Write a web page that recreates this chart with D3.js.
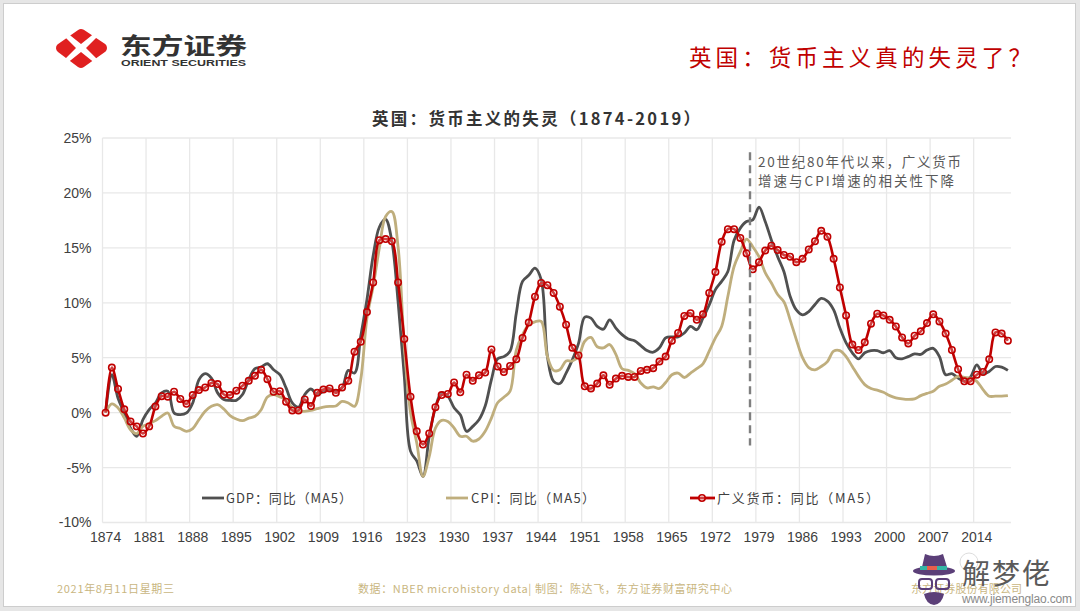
<!DOCTYPE html>
<html>
<head>
<meta charset="utf-8">
<script src="https://cdn.jsdelivr.net/npm/d3@7"></script>
<style>
html,body{margin:0;padding:0;background:#e6e6e6;overflow:hidden}
svg{display:block}
text{font-family:"Noto Sans CJK SC",sans-serif}
.tick text{font-family:"Liberation Sans",Arial,sans-serif;font-size:14px;fill:#404040}
</style>
</head>
<body>
<script>
// values, 1874-2019, % yoy (MA5)
const years = d3.range(1874, 2020);
const xTickYears = d3.range(1874, 2020, 7);
const yTicks = [-10, -5, 0, 5, 10, 15, 20, 25];

const gdp = [0,3.45,1.3,-0.03,-1.4,-2.15,-0.64,0.27,0.88,1.8,1.95,-0.03,-0.18,-0.03,0.88,3.0,3.55,3.15,1.8,1.2,
  1.12,1.12,1.65,3.0,4.0,4.15,4.45,3.9,3.45,2.25,0.88,0.5,1.65,2.15,1.65,1.95,2.1,1.95,2.25,3.85,
  3.6,6.95,10.3,14.3,16.9,17.6,15.6,10.1,3.3,-3.5,-4.4,-5.8,-2.2,0.45,1.8,1.5,0.45,-0.2,-1.7,-1.25,
  -0.65,0.6,3.0,4.9,5.1,5.6,9.05,11.95,12.5,13.15,12.1,5.1,2.85,2.65,3.6,4.8,6.3,8.7,8.6,7.85,
  7.6,8.45,7.7,7.1,6.7,6.55,6.1,5.65,5.5,5.9,6.8,6.9,6.9,7.25,7.85,7.55,8.6,9.8,11.2,11.95,
  12.85,15.7,16.8,17.4,17.55,18.7,17.4,15.7,14.2,12.85,10.6,9.35,8.9,9.2,9.85,10.4,10.15,9.35,7.7,6.35,
  5.45,4.9,5.45,5.65,5.65,5.45,5.65,5.0,4.9,5.1,5.35,5.3,5.7,5.85,5.1,3.45,3.55,3.15,2.85,3.25,
  4.35,3.55,3.75,4.2,4.15,3.85];

const cpi = [0,0.8,0.43,-0.48,-1.55,-1.9,-1.24,-1.0,-0.73,-0.33,-0.03,-1.24,-1.45,-1.7,-1.45,-0.64,0.12,0.58,0.73,0.33,
  -0.27,-0.58,-0.73,-0.5,-0.33,0.27,1.43,1.65,1.43,1.2,0.43,0.12,0.12,0.2,0.36,0.5,0.57,0.6,1.03,0.88,
  0.57,3.0,8.6,11.5,15.0,17.85,18.3,15.1,6.0,0.0,-2.75,-5.8,-4.0,-1.4,-0.7,-0.8,-1.4,-2.15,-2.15,-2.6,
  -2.4,-1.7,-0.5,0.9,1.4,1.95,5.7,7.1,8.0,8.27,8.3,5.1,3.85,3.9,4.7,4.7,5.1,6.5,6.85,6.0,
  5.9,6.2,5.3,4.0,3.85,3.55,2.7,2.25,2.35,2.2,2.75,3.45,3.6,3.2,3.6,4.0,4.45,5.6,6.8,7.85,
  10.6,13.3,14.65,15.8,15.1,14.2,12.75,11.8,10.75,10.1,8.45,6.65,5.0,4.1,3.9,4.2,4.65,5.6,5.65,5.1,
  4.2,3.3,2.55,2.2,2.05,1.85,1.55,1.35,1.25,1.2,1.25,1.55,1.75,1.95,2.4,2.6,2.95,3.3,3.2,3.15,
  2.85,2.1,1.5,1.5,1.5,1.55];

const money = [0,4.1,2.15,0.3,-0.8,-1.25,-1.9,-1.25,0.55,1.5,1.45,1.9,1.25,0.8,1.6,2.05,2.3,2.7,2.6,1.65,
  1.6,2.0,2.45,2.9,3.35,3.9,3.05,1.9,1.95,1.0,0.2,0.2,1.2,0.6,1.8,2.1,2.2,1.8,2.3,2.9,
  5.55,6.45,9.15,11.85,15.7,15.8,15.6,11.85,6.7,1.45,-1.7,-2.9,-1.9,0.5,1.6,1.7,2.75,1.85,3.45,2.9,
  3.4,3.65,5.75,4.2,3.7,4.25,4.85,6.8,8.2,10.55,11.8,11.6,10.9,9.65,8.0,5.9,5.2,2.4,2.2,2.65,
  3.4,2.55,3.1,3.35,3.25,3.25,3.8,3.9,4.05,4.65,5.1,6.55,7.25,8.8,9.05,8.45,8.95,10.9,12.8,15.55,
  16.7,16.7,15.9,14.5,13.05,13.7,14.75,15.2,14.8,14.35,14.2,13.7,14.0,14.85,15.6,16.55,16.0,14.0,11.4,8.85,
  6.2,5.7,6.4,8.1,9.0,8.85,8.45,7.85,6.85,6.3,7.0,7.4,8.15,8.95,8.3,7.2,5.7,3.95,2.85,2.85,
  3.45,3.7,4.85,7.3,7.2,6.55];

const gray = "#505050", tan = "#bfae7d", red = "#c00000", gold = "#c9b67f";

const svg = d3.select("body").append("svg").attr("width", 1080).attr("height", 611);

// slide
svg.append("rect").attr("x", 3.5).attr("y", 3.5).attr("width", 1072).attr("height", 603)
  .attr("fill", "#fff").attr("stroke", "#cdcdcd").attr("stroke-width", 1);

// logo
const logo = svg.append("g");
logo.append("path").attr("d", "M81 34 L102 48 L81 63 L61 48 Z")
  .attr("fill", "#e02020").attr("stroke", "#e02020").attr("stroke-width", 10).attr("stroke-linejoin", "round");
logo.append("path").attr("d", "M66 32 L81 44 L96 32 L99 35 L86 48 L99 61 L96 64 L81 52 L66 64 L63 61 L76 48 L63 35 Z")
  .attr("fill", "#fff");
logo.append("text").attr("x", 120).attr("y", 54).attr("font-size", 23).attr("font-weight", 700)
  .attr("fill", "#333").attr("lengthAdjust", "spacingAndGlyphs").attr("textLength", 127).text("东方证券");
logo.append("text").attr("x", 121).attr("y", 66).attr("font-size", 8.5).attr("font-weight", 700)
  .attr("fill", "#333").style("font-family", "'Liberation Sans',Arial,sans-serif")
  .attr("lengthAdjust", "spacingAndGlyphs").attr("textLength", 125).text("ORIENT SECURITIES");

svg.append("text").attr("x", 689).attr("y", 66).attr("font-size", 22.5).attr("fill", "#c00000")
  .attr("textLength", 342).text("英国：货币主义真的失灵了？");

svg.append("text").attr("x", 372).attr("y", 125).attr("font-size", 16.5).attr("font-weight", 700)
  .attr("fill", "#333").attr("textLength", 328).text("英国：货币主义的失灵（1874-2019）");

// scales
const x = d3.scaleBand().domain(years).range([102.5, 1011]);
const y = d3.scaleLinear().domain([-10, 25]).range([522.5, 138]);
const cx = d => x(d) + x.bandwidth() / 2;

// grid
const grid = svg.append("g").attr("stroke", "#e8e8e8").attr("stroke-width", 1.3);
grid.selectAll("line.h").data(yTicks).join("line").attr("class", "h")
  .attr("x1", 102.5).attr("x2", 1011).attr("y1", y).attr("y2", y);
grid.selectAll("line.v").data(xTickYears).join("line").attr("class", "v")
  .attr("x1", d => x(d)).attr("x2", d => x(d)).attr("y1", y(25)).attr("y2", y(-10));

// axes
const yAxis = svg.append("g").attr("transform", "translate(102.5,0)")
  .call(d3.axisLeft(y).tickValues(yTicks).tickSize(0).tickPadding(11).tickFormat(d => d + "%"));
yAxis.select(".domain").remove();
const xAxis = svg.append("g").attr("transform", "translate(0,522.5)")
  .call(d3.axisBottom(x).tickValues(xTickYears).tickSize(0).tickPadding(10));
xAxis.select(".domain").remove();

// lines
const line = d3.line().x((d, i) => cx(years[i])).y(d => y(d)).curve(d3.curveCatmullRom.alpha(0.5));
svg.append("path").datum(gdp).attr("d", line).attr("fill", "none").attr("stroke", gray).attr("stroke-width", 2.8);
svg.append("path").datum(cpi).attr("d", line).attr("fill", "none").attr("stroke", tan).attr("stroke-width", 2.8);
svg.append("path").datum(money).attr("d", line).attr("fill", "none").attr("stroke", red).attr("stroke-width", 2.6);
svg.append("g").selectAll("circle").data(money).join("circle")
  .attr("cx", (d, i) => cx(years[i])).attr("cy", d => y(d)).attr("r", 3.2)
  .attr("fill", "rgba(255,255,255,0.25)").attr("stroke", red).attr("stroke-width", 1.6);

// 1980s marker
svg.append("line").attr("x1", 750).attr("x2", 750).attr("y1", y(23.7)).attr("y2", y(-3))
  .attr("stroke", "#7f7f7f").attr("stroke-width", 2.4).attr("stroke-dasharray", "8,5");
svg.append("text").attr("x", 758).attr("y", 167).attr("font-size", 13.5).attr("fill", "#595959")
  .attr("textLength", 203).text("20世纪80年代以来，广义货币");
svg.append("text").attr("x", 758).attr("y", 186).attr("font-size", 13.5).attr("fill", "#595959")
  .attr("textLength", 196).text("增速与CPI增速的相关性下降");

// legend
const legend = svg.append("g").attr("font-size", 13).attr("fill", "#404040");
const legendItems = [
  {name: "GDP：同比（MA5）", c: gray, x1: 202, x2: 224, tx: 226, w: 126},
  {name: "CPI：同比（MA5）", c: tan, x1: 446, x2: 468, tx: 471, w: 124},
  {name: "广义货币：同比（MA5）", c: red, x1: 690, x2: 715, tx: 717, w: 162}
];
legendItems.forEach(l => {
  legend.append("line").attr("x1", l.x1).attr("x2", l.x2).attr("y1", 498).attr("y2", 498)
    .attr("stroke", l.c).attr("stroke-width", 2.8);
  legend.append("text").attr("x", l.tx).attr("y", 503).attr("textLength", l.w).text(l.name);
});
legend.append("circle").attr("cx", 702).attr("cy", 498).attr("r", 3.2)
  .attr("fill", "rgba(255,255,255,0.25)").attr("stroke", red).attr("stroke-width", 1.6);

// footer
svg.append("text").attr("x", 57).attr("y", 593).attr("font-size", 11).attr("fill", gold)
  .attr("textLength", 117).text("2021年8月11日星期三");
svg.append("text").attr("x", 358).attr("y", 593).attr("font-size", 11).attr("fill", gold)
  .attr("textLength", 374).text("数据：NBER microhistory data| 制图：陈达飞，东方证券财富研究中心");
svg.append("text").attr("x", 911).attr("y", 593).attr("font-size", 11).attr("fill", gold)
  .attr("textLength", 111).text("东方证券股份有限公司");

// site watermark
const wm = svg.append("g");
wm.append("path").attr("d", "M922 567 L925 554 Q934 558 943 554 L947 567 Z").attr("fill", "#5b3f78");
wm.append("ellipse").attr("cx", 934).attr("cy", 571).attr("rx", 21).attr("ry", 4.5).attr("fill", "#5b3f78");
wm.append("rect").attr("x", 920).attr("y", 566).attr("width", 27).attr("height", 4).attr("fill", "#35b5a5");
wm.append("rect").attr("x", 927).attr("y", 566).attr("width", 10).attr("height", 4).attr("fill", "#e8604c");
wm.selectAll("rect.lens").data([919, 936]).join("rect").attr("class", "lens")
  .attr("x", d => d).attr("y", 579).attr("width", 13).attr("height", 10).attr("rx", 3)
  .attr("fill", "none").attr("stroke", "#5b3f78").attr("stroke-width", 2);
wm.append("path").attr("d", "M924 594 Q934 590 944 594 Q942 604 934 605 Q926 604 924 594 Z").attr("fill", "#5b3f78");
wm.append("circle").attr("cx", 969).attr("cy", 562).attr("r", 9).attr("fill", "none").attr("stroke", "#ddd");
wm.append("text").attr("x", 962).attr("y", 584).attr("font-size", 28).attr("fill", "#5a5a5a")
  .attr("textLength", 88).text("解梦佬");
wm.append("text").attr("x", 962).attr("y", 603).attr("font-size", 12).attr("fill", "#8a8a8a")
  .style("font-family", "'Liberation Sans',Arial,sans-serif").attr("textLength", 110).text("www.jiemenglao.com");
</script>
</body>
</html>
